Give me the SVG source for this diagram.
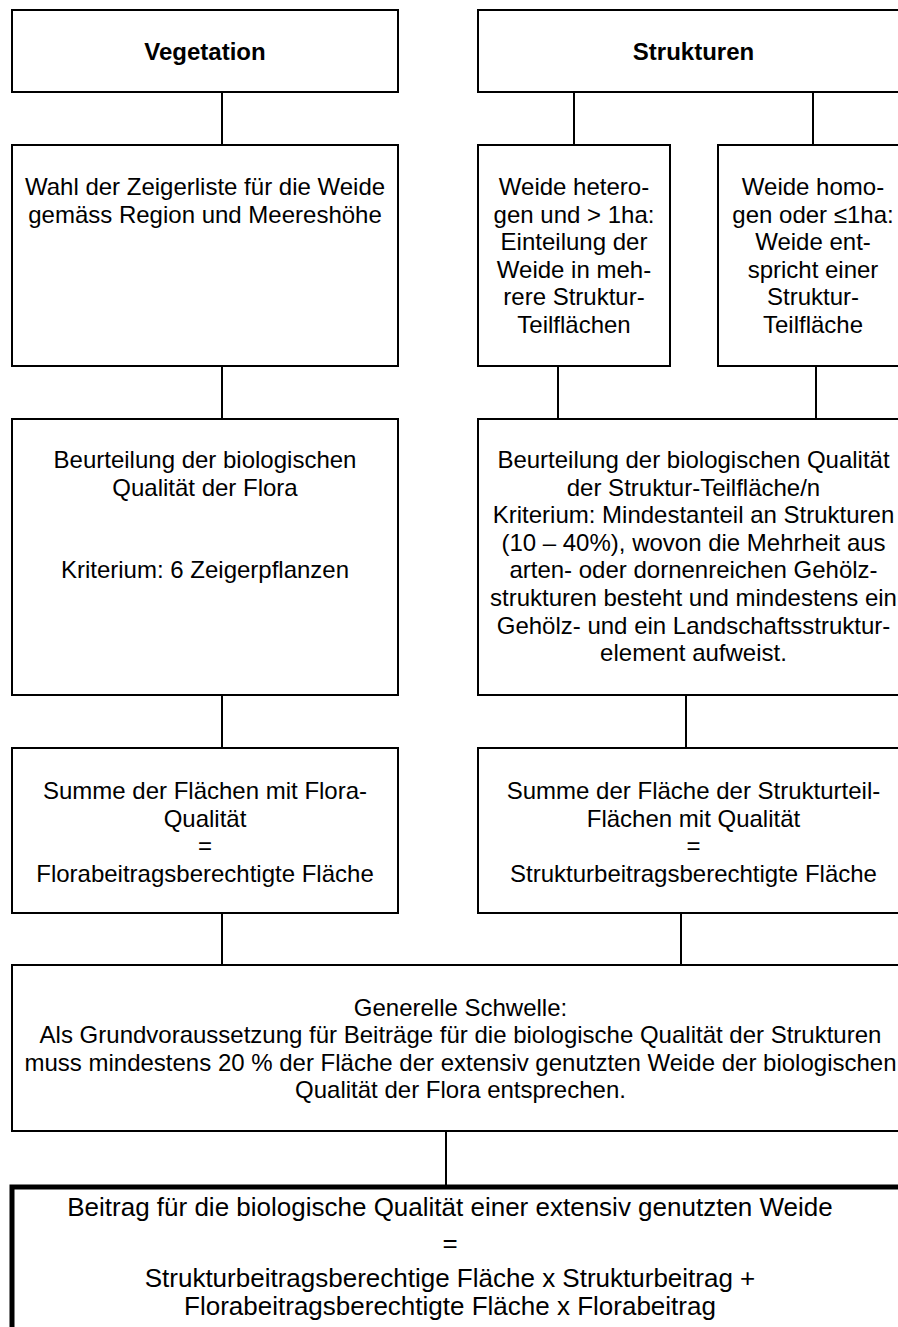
<svg xmlns="http://www.w3.org/2000/svg" width="898" height="1327" viewBox="0 0 898 1327">
<style>
.box{fill:#fff;stroke:#000;stroke-width:2}
.thick{fill:#fff;stroke:#000;stroke-width:5}
.con{stroke:#000;stroke-width:2;fill:none}
text{font-family:"Liberation Sans",Arial,sans-serif;font-size:24px;fill:#000;text-anchor:middle}
.b{font-weight:bold}
.big{font-size:26px}
</style>
<rect x="0" y="0" width="898" height="1327" fill="#fff"/>
<g id="connectors">
<line class="con" x1="222" y1="92" x2="222" y2="145"/>
<line class="con" x1="574" y1="92" x2="574" y2="145"/>
<line class="con" x1="813" y1="92" x2="813" y2="145"/>
<line class="con" x1="222" y1="366" x2="222" y2="419"/>
<line class="con" x1="558" y1="366" x2="558" y2="419"/>
<line class="con" x1="816" y1="366" x2="816" y2="419"/>
<line class="con" x1="222" y1="695" x2="222" y2="748"/>
<line class="con" x1="686" y1="695" x2="686" y2="748"/>
<line class="con" x1="222" y1="913" x2="222" y2="965"/>
<line class="con" x1="681" y1="913" x2="681" y2="965"/>
<line class="con" x1="446" y1="1131" x2="446" y2="1185"/>
</g>
<g id="vegetation">
<rect class="box" x="12" y="10" width="386" height="82"/>
<text class="b" x="205" y="60">Vegetation</text>
</g>
<g id="strukturen">
<rect class="box" x="478" y="10" width="431" height="82"/>
<text class="b" x="693.5" y="60">Strukturen</text>
</g>
<g id="wahl">
<rect class="box" x="12" y="145" width="386" height="221"/>
<text x="205" y="195">Wahl der Zeigerliste für die Weide</text>
<text x="205" y="222.6">gemäss Region und Meereshöhe</text>
</g>
<g id="heterogen">
<rect class="box" x="478" y="145" width="192" height="221"/>
<text x="574" y="195">Weide hetero-</text>
<text x="574" y="222.6">gen und &gt; 1ha:</text>
<text x="574" y="250.2">Einteilung der</text>
<text x="574" y="277.8">Weide in meh-</text>
<text x="574" y="305.4">rere Struktur-</text>
<text x="574" y="333">Teilflächen</text>
</g>
<g id="homogen">
<rect class="box" x="718" y="145" width="190" height="221"/>
<text x="813" y="195">Weide homo-</text>
<text x="813" y="222.6">gen oder ≤1ha:</text>
<text x="813" y="250.2">Weide ent-</text>
<text x="813" y="277.8">spricht einer</text>
<text x="813" y="305.4">Struktur-</text>
<text x="813" y="333">Teilfläche</text>
</g>
<g id="flora-beurteilung">
<rect class="box" x="12" y="419" width="386" height="276"/>
<text x="205" y="468">Beurteilung der biologischen</text>
<text x="205" y="495.6">Qualität der Flora</text>
<text x="205" y="578.4">Kriterium: 6 Zeigerpflanzen</text>
</g>
<g id="struktur-beurteilung">
<rect class="box" x="478" y="419" width="431" height="276"/>
<text x="693.5" y="468">Beurteilung der biologischen Qualität</text>
<text x="693.5" y="495.6">der Struktur-Teilfläche/n</text>
<text x="693.5" y="523.2">Kriterium: Mindestanteil an Strukturen</text>
<text x="693.5" y="550.8">(10 – 40%), wovon die Mehrheit aus</text>
<text x="693.5" y="578.4">arten- oder dornenreichen Gehölz-</text>
<text x="693.5" y="606">strukturen besteht und mindestens ein</text>
<text x="693.5" y="633.6">Gehölz- und ein Landschaftsstruktur-</text>
<text x="693.5" y="661.2">element aufweist.</text>
</g>
<g id="flora-summe">
<rect class="box" x="12" y="748" width="386" height="165"/>
<text x="205" y="799">Summe der Flächen mit Flora-</text>
<text x="205" y="826.6">Qualität</text>
<text x="205" y="854.2">=</text>
<text x="205" y="881.8">Florabeitragsberechtigte Fläche</text>
</g>
<g id="struktur-summe">
<rect class="box" x="478" y="748" width="431" height="165"/>
<text x="693.5" y="799">Summe der Fläche der Strukturteil-</text>
<text x="693.5" y="826.6">Flächen mit Qualität</text>
<text x="693.5" y="854.2">=</text>
<text x="693.5" y="881.8">Strukturbeitragsberechtigte Fläche</text>
</g>
<g id="schwelle">
<rect class="box" x="12" y="965" width="897" height="166"/>
<text x="460.5" y="1015.5">Generelle Schwelle:</text>
<text x="460.5" y="1043.1">Als Grundvoraussetzung für Beiträge für die biologische Qualität der Strukturen</text>
<text x="460.5" y="1070.7">muss mindestens 20 % der Fläche der extensiv genutzten Weide der biologischen</text>
<text x="460.5" y="1098.3">Qualität der Flora entsprechen.</text>
</g>
<g id="beitrag">
<rect class="thick" x="12" y="1187" width="900" height="160"/>
<text class="big" x="450" y="1216">Beitrag für die biologische Qualität einer extensiv genutzten Weide</text>
<text class="big" x="450" y="1252">=</text>
<text class="big" x="450" y="1287">Strukturbeitragsberechtige Fläche x Strukturbeitrag +</text>
<text class="big" x="450" y="1315">Florabeitragsberechtigte Fläche x Florabeitrag</text>
</g>
</svg>
